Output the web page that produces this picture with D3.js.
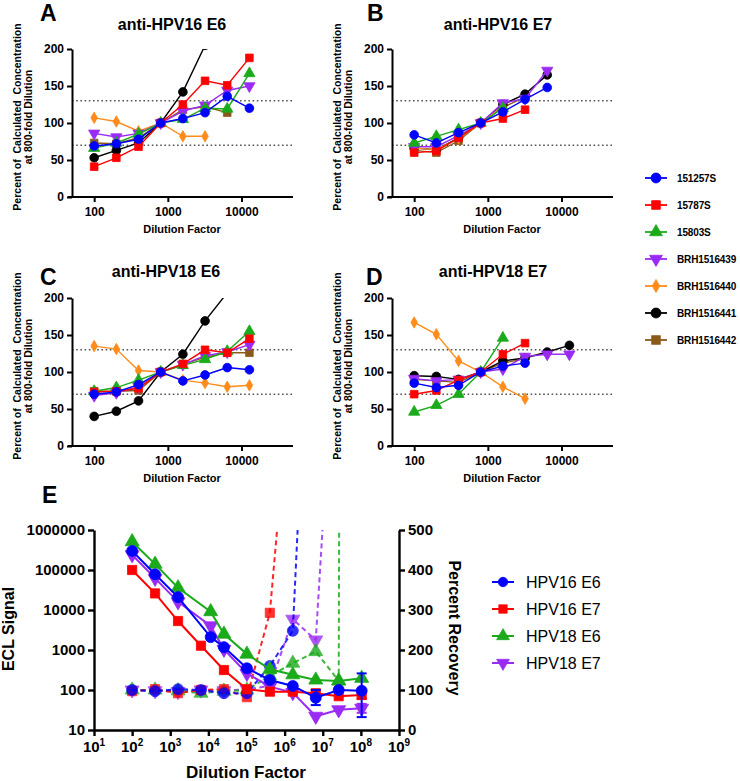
<!DOCTYPE html>
<html><head><meta charset="utf-8">
<script src="https://cdn.jsdelivr.net/npm/d3@7"></script>
<style>
body{margin:0;background:#fff}
svg{display:block}
text{font-family:"Liberation Sans",Arial,sans-serif}
</style>
</head><body>
<svg id="c" width="740" height="781"></svg>
<script>
// ---------- data: panels A-D ----------
const dilutionsAD = [100, 200, 400, 800, 1600, 3200, 6400, 12800];
const sampleNames = ["151257S", "15787S", "15803S", "BRH1516439", "BRH1516440", "BRH1516441", "BRH1516442"];
const sampleColors = ["#0000ff", "#ff0000", "#1aaa1a", "#9a2bf5", "#ff8c1a", "#000000", "#8b5a1a"];
const sampleShapes = ["circle", "square", "triangle", "triangleDown", "diamond", "circle", "square"];
const xTicksAD = [100, 1000, 10000];
const yTicksAD = [0, 50, 100, 150, 200];
const refLines = [70, 130];
// rows follow sampleNames; null = no point
const panelA = [
  [69, 72, 78, 100, 106, 114, 136, 120],
  [41, 53, 68, 100, 125, 157, 151, 188],
  [66, 73, 85, 100, 105, 120, 119, 167],
  [86, 81, 86, 100, 116, 124, 144, 150],
  [107, 102, 89, 100, 82, 82, null, null],
  [53, 63, 73, 100, 142, 205, null, null],
  [73, 72, 80, 100, 118, 122, 114, null]
];
const panelB = [
  [84, 73, 87, 100, 115, 132, 148, null],
  [60, 62, 80, 100, 106, 118, null, null],
  [73, 82, 91, 100, 120, null, null, null],
  [68, 68, 83, 100, 127, 133, 171, null],
  [66, 64, 79, 100, 123, null, null, null],
  [66, 64, 80, 100, 125, 139, 165, null],
  [63, 60, 76, 100, 121, 135, null, null]
];
const panelC = [
  [70, 73, 83, 100, 88, 96, 106, 103],
  [73, 74, 78, 100, 111, 130, 126, 145],
  [74, 79, 89, 100, 109, 117, 128, 155],
  [68, 72, 80, 100, 110, 122, 127, 137],
  [135, 131, 102, 100, 89, 85, 80, 82],
  [40, 47, 61, 100, 124, 169, 207, null],
  [74, 74, 75, 100, 110, 120, 126, 126]
];
const panelD = [
  [85, 79, 82, 100, 108, 112, null, null],
  [70, 75, 89, 100, 124, 139, null, null],
  [46, 55, 70, 100, 146, null, null, null],
  [91, 88, 90, 100, 104, 121, 124, 124],
  [167, 151, 115, 100, 80, 64, null, null],
  [95, 94, 90, 100, 115, 119, 127, 136],
  [90, 88, 86, 100, 112, 118, null, null]
];

// ---------- data: panel E ----------
const eDilutions = [100, 400, 1600, 6400, 25600, 102400, 409600, 1638400, 6553600, 26214400, 104857600];
const eDilutionsAlt = [100, 400, 1600, 11500, 25600, 102400, 409600, 1638400, 6553600, 26214400, 104857600];
const eSeriesNames = ["HPV16 E6", "HPV16 E7", "HPV18 E6", "HPV18 E7"];
const eColors = ["#0000ff", "#ff0000", "#1aaa1a", "#9a2bf5"];
const eShapes = ["circle", "square", "triangle", "triangleDown"];
const eclHPV16E6 = [300000, 78000, 21000, 2100, 1180, 350, 178, 126, 64, 100, 96];
const eclHPV16E7 = [100000, 26000, 5300, 1280, 316, 104, 91, 91, 83, 70, 75];
const eclHPV18E6 = [510000, 140000, 36000, 9100, 2500, 790, 330, 240, 178, 168, 196];
const eclHPV18E7 = [240000, 62000, 16000, 4000, 1040, 260, 121, 86, 22, 32, 35];
const recHPV16E6 = [100, 97, 102, 100, 92, 92, 160, 248, 1450, null, null];
const recHPV16E7 = [97, 102, 92, 100, 102, 82, 293, 950, null, null, null];
const recHPV18E6 = [100, 100, 98, 92, 97, 100, 135, 167, 196, 123, 20000];
const recHPV18E7 = [100, 98, 96, 100, 98, 102, 110, 277, 225, 1160, null];
// error bars on ECL: [index, low, high]
const errHPV16E6 = [[8, 42, 100], [10, 21, 260]];
const errHPV16E7 = [[10, 60, 92]];
const errHPV18E7 = [[10, 27, 45]];
const eXTickExps = [1, 2, 3, 4, 5, 6, 7, 8, 9];
const eYTicksLeft = [10, 100, 1000, 10000, 100000, 1000000];
const eYTicksRight = [0, 100, 200, 300, 400, 500];

// ---------- helpers ----------
const svg = d3.select("#c");
const FONT = '"Liberation Sans",Arial,sans-serif';

function symbolPath(shape, size) {
  const map = {circle: d3.symbolCircle, square: d3.symbolSquare, triangle: d3.symbolTriangle,
               triangleDown: d3.symbolTriangle, diamond: d3.symbolDiamond};
  return d3.symbol(map[shape], size)();
}
function drawSymbol(g, shape, size, color, x, y, opacity) {
  g.append("path").attr("d", symbolPath(shape, size))
    .attr("transform", `translate(${x},${y})` + (shape === "triangleDown" ? " rotate(180)" : ""))
    .attr("fill", color).attr("stroke", color).attr("stroke-width", 0.8)
    .attr("opacity", opacity == null ? 1 : opacity);
}
const symSizeAD = {circle: 60, square: 58, triangle: 55, triangleDown: 55, diamond: 38};

let clipId = 0;
function panel(cfg) {
  const g = svg.append("g");
  const x = d3.scaleLog().domain([50, 50000]).range([cfg.x0, cfg.x0 + 221]);
  const y = d3.scaleLinear().domain([0, 200]).range([cfg.yBot, cfg.yTop]);

  refLines.forEach(v => {
    g.append("line").attr("x1", cfg.x0).attr("x2", cfg.x0 + 221)
      .attr("y1", y(v)).attr("y2", y(v))
      .attr("stroke", "#555").attr("stroke-width", 1.6).attr("stroke-dasharray", "1.6,2.6");
  });

  const id = "clip" + (clipId++);
  g.append("clipPath").attr("id", id).append("rect")
    .attr("x", cfg.x0 - 10).attr("y", cfg.yTop).attr("width", 241).attr("height", cfg.yBot - cfg.yTop + 10);
  const plot = g.append("g").attr("clip-path", `url(#${id})`);
  const line = d3.line().defined(d => d[1] != null).x(d => x(d[0])).y(d => y(d[1]));
  for (let s = cfg.values.length - 1; s >= 0; s--) {
    const pts = dilutionsAD.map((dv, i) => [dv, cfg.values[s][i]]);
    plot.append("path").attr("d", line(pts)).attr("fill", "none")
      .attr("stroke", sampleColors[s]).attr("stroke-width", 1.4);
    pts.filter(p => p[1] != null).forEach(p => {
      drawSymbol(plot, sampleShapes[s], symSizeAD[sampleShapes[s]], sampleColors[s], x(p[0]), y(p[1]));
    });
  }

  const ax = g.append("g").attr("transform", `translate(0,${cfg.yBot})`)
    .call(d3.axisBottom(x).tickValues(xTicksAD).tickFormat(d3.format("d")).tickSize(5).tickSizeOuter(0).tickPadding(5));
  const ay = g.append("g").attr("transform", `translate(${cfg.x0},0)`)
    .call(d3.axisLeft(y).tickValues(yTicksAD).tickSize(5).tickSizeOuter(0).tickPadding(3));
  [ax, ay].forEach(a => {
    a.select(".domain").attr("stroke", "#000").attr("stroke-width", 2);
    a.selectAll(".tick line").attr("stroke", "#000").attr("stroke-width", 2);
    a.selectAll(".tick text").attr("font-family", FONT).attr("font-weight", "bold")
      .attr("font-size", 12).attr("fill", "#000");
  });
  ax.select(".domain").attr("d", `M${cfg.x0 - 4},0H${cfg.x0 + 221}`);

  g.append("text").attr("x", cfg.letterX).attr("y", cfg.letterY).text(cfg.letter)
    .attr("font-size", 23).attr("font-weight", "bold");
  g.append("text").attr("x", cfg.titleX).attr("y", cfg.titleY).text(cfg.title)
    .attr("text-anchor", "middle").attr("font-size", 16).attr("font-weight", "bold");
  g.append("text").attr("x", cfg.x0 + 110).attr("y", cfg.yBot + 36).text("Dilution Factor")
    .attr("text-anchor", "middle").attr("font-size", 11).attr("font-weight", "bold");
  const cy = (cfg.yTop + cfg.yBot) / 2 - 6;
  [["Percent of  Calculated  Concentration", cfg.x0 - 51], ["at 800-fold Dilution", cfg.x0 - 40]].forEach(([t, lx]) => {
    g.append("text").attr("transform", `translate(${lx},${cy}) rotate(-90)`).text(t)
      .attr("text-anchor", "middle").attr("font-size", 10.5).attr("font-weight", "bold")
      .attr("xml:space", "preserve").style("white-space", "pre");
  });
}

panel({x0: 72, yTop: 49, yBot: 197, values: panelA, letter: "A", letterX: 40, letterY: 21,
       title: "anti-HPV16 E6", titleX: 172, titleY: 30});
panel({x0: 392, yTop: 49, yBot: 197, values: panelB, letter: "B", letterX: 367, letterY: 21,
       title: "anti-HPV16 E7", titleX: 498, titleY: 30});
panel({x0: 72, yTop: 298, yBot: 446, values: panelC, letter: "C", letterX: 40, letterY: 285,
       title: "anti-HPV18 E6", titleX: 166, titleY: 277});
panel({x0: 392, yTop: 298, yBot: 446, values: panelD, letter: "D", letterX: 366, letterY: 285,
       title: "anti-HPV18 E7", titleX: 493, titleY: 277});

// top legend
sampleNames.forEach((n, i) => {
  const yy = 178 + i * 27;
  const lg = svg.append("g");
  lg.append("line").attr("x1", 645).attr("x2", 667).attr("y1", yy).attr("y2", yy)
    .attr("stroke", sampleColors[i]).attr("stroke-width", 1.8);
  drawSymbol(lg, sampleShapes[i], symSizeAD[sampleShapes[i]] * 1.3, sampleColors[i], 656, yy);
  lg.append("text").attr("x", 677).attr("y", yy + 4).text(n)
    .attr("font-size", 10).attr("font-weight", "bold").attr("letter-spacing", -0.15);
});

// ---------- panel E ----------
(function () {
  const g = svg.append("g");
  const x = d3.scaleLog().domain([10, 1e9]).range([94, 399]);
  const yL = d3.scaleLog().domain([10, 1e6]).range([730, 530]);
  const yR = d3.scaleLinear().domain([0, 500]).range([730, 530]);
  g.append("clipPath").attr("id", "clipE").append("rect")
    .attr("x", 94).attr("y", 530).attr("width", 305).attr("height", 205);
  const plot = g.append("g").attr("clip-path", "url(#clipE)");

  const ecl = [eclHPV16E6, eclHPV16E7, eclHPV18E6, eclHPV18E7];
  const eclX = [eDilutionsAlt, eDilutions, eDilutionsAlt, eDilutionsAlt];
  const rec = [recHPV16E6, recHPV16E7, recHPV18E6, recHPV18E7];
  const errs = [errHPV16E6, errHPV16E7, [], errHPV18E7];
  const sizes = {circle: 95, square: 85, triangle: 85, triangleDown: 85};

  for (let s = 3; s >= 0; s--) {
    const pts = eDilutions.map((dv, i) => [dv, rec[s][i]]);
    const ln = d3.line().defined(d => d[1] != null).x(d => x(d[0])).y(d => yR(d[1]));
    plot.append("path").attr("d", ln(pts)).attr("fill", "none").attr("stroke", eColors[s])
      .attr("stroke-width", 2).attr("stroke-dasharray", "5,3.5").attr("opacity", 0.85);
    pts.filter(p => p[1] != null).forEach(p =>
      drawSymbol(plot, eShapes[s], sizes[eShapes[s]], eColors[s], x(p[0]), yR(p[1]), 0.8));
  }
  for (let s = 3; s >= 0; s--) {
    const pts = eclX[s].map((dv, i) => [dv, ecl[s][i]]);
    const ln = d3.line().x(d => x(d[0])).y(d => yL(d[1]));
    errs[s].forEach(([i, lo, hi]) => {
      const xx = x(eclX[s][i]);
      plot.append("line").attr("x1", xx).attr("x2", xx).attr("y1", yL(lo)).attr("y2", yL(hi))
        .attr("stroke", eColors[s]).attr("stroke-width", 2);
      [lo, hi].forEach(v => plot.append("line").attr("x1", xx - 5).attr("x2", xx + 5)
        .attr("y1", yL(v)).attr("y2", yL(v)).attr("stroke", eColors[s]).attr("stroke-width", 2));
    });
    plot.append("path").attr("d", ln(pts)).attr("fill", "none").attr("stroke", eColors[s]).attr("stroke-width", 2);
    pts.forEach(p => drawSymbol(plot, eShapes[s], sizes[eShapes[s]], eColors[s], x(p[0]), yL(p[1])));
  }

  const ax = g.append("g").attr("transform", "translate(0,730)")
    .call(d3.axisBottom(x).tickValues(eXTickExps.map(e => Math.pow(10, e))).tickFormat("").tickSize(6).tickSizeOuter(0));
  const ayl = g.append("g").attr("transform", "translate(94,0)")
    .call(d3.axisLeft(yL).tickValues(eYTicksLeft).tickFormat(d3.format("d")).tickSize(6).tickSizeOuter(0).tickPadding(3));
  const ayr = g.append("g").attr("transform", "translate(399,0)")
    .call(d3.axisRight(yR).tickValues(eYTicksRight).tickSize(6).tickSizeOuter(0).tickPadding(3));
  [ax, ayl, ayr].forEach(a => {
    a.select(".domain").attr("stroke", "#000").attr("stroke-width", 2.4);
    a.selectAll(".tick line").attr("stroke", "#000").attr("stroke-width", 2.4);
    a.selectAll(".tick text").attr("font-family", FONT).attr("font-weight", "bold")
      .attr("font-size", 15).attr("fill", "#000");
  });
  eXTickExps.forEach(e => {
    const t = g.append("text").attr("x", x(Math.pow(10, e))).attr("y", 752)
      .attr("text-anchor", "middle").attr("font-size", 15).attr("font-weight", "bold");
    t.append("tspan").text("10");
    t.append("tspan").text(e).attr("font-size", 10).attr("dy", -6);
  });
  g.append("text").attr("x", 42).attr("y", 503).text("E").attr("font-size", 23).attr("font-weight", "bold");
  g.append("text").attr("transform", "translate(14,629) rotate(-90)").text("ECL Signal")
    .attr("text-anchor", "middle").attr("font-size", 16).attr("font-weight", "bold");
  g.append("text").attr("transform", "translate(449,628) rotate(90)").text("Percent Recovery")
    .attr("text-anchor", "middle").attr("font-size", 16).attr("font-weight", "bold");
  g.append("text").attr("x", 246).attr("y", 778).text("Dilution Factor")
    .attr("text-anchor", "middle").attr("font-size", 17).attr("font-weight", "bold");

  eSeriesNames.forEach((n, i) => {
    const yy = 582 + i * 27;
    g.append("line").attr("x1", 492).attr("x2", 514).attr("y1", yy).attr("y2", yy)
      .attr("stroke", eColors[i]).attr("stroke-width", 2);
    drawSymbol(g, eShapes[i], 70, eColors[i], 503, yy);
    g.append("text").attr("x", 526).attr("y", yy + 6).text(n).attr("font-size", 16);
  });
})();
</script>
</body></html>
